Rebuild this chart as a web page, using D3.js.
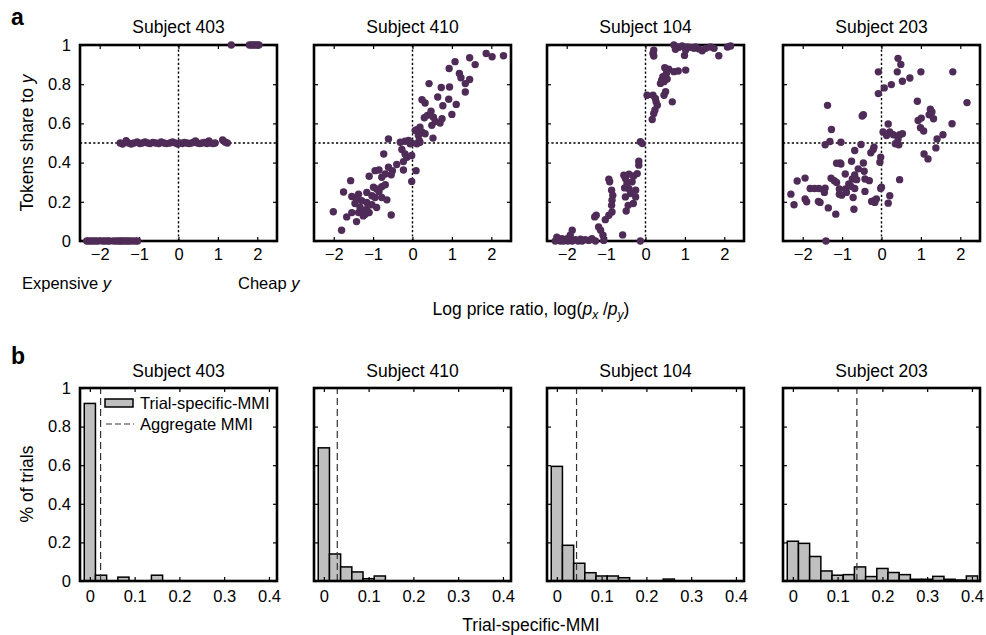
<!DOCTYPE html>
<html><head><meta charset="utf-8">
<script src="https://cdn.jsdelivr.net/npm/d3@7"></script>
<style>
body{margin:0;background:#fff;}
svg text{font-family:"Liberation Sans",Arial,Helvetica,sans-serif;fill:#000;}
</style></head><body>
<svg id="fig" width="986" height="635"></svg>
<script>
// ---- data ----
const subjects = ["Subject 403", "Subject 410", "Subject 104", "Subject 203"];
const logTicks = [-2, -1, 0, 1, 2];
const shareTicks = [0, 0.2, 0.4, 0.6, 0.8, 1];
const mmiTicks = [0, 0.1, 0.2, 0.3, 0.4];

// [log price ratio, token share to y] per trial
const share403 = [
  [-2.33,0],[-2.28,0],[-2.22,0],[-2.16,0],[-2.1,0],[-2.04,0],[-1.93,0],[-1.87,0],[-1.8,0],[-1.75,0],
  [-1.65,0],[-1.58,0],[-1.52,0],[-1.47,0],[-1.42,0],[-1.36,0],[-1.3,0],[-1.25,0],[-1.18,0],[-1.1,0],[-1.04,0],
  [-1.48,0.5],[-1.42,0.495],[-1.33,0.512],[-1.27,0.5],[-1.2,0.495],[-1.13,0.5],[-1.05,0.505],[-0.98,0.497],
  [-0.92,0.5],[-0.85,0.505],[-0.78,0.5],[-0.72,0.497],[-0.65,0.503],[-0.58,0.5],[-0.5,0.497],[-0.44,0.505],
  [-0.37,0.5],[-0.3,0.497],[-0.22,0.5],[-0.15,0.505],[-0.08,0.5],[-0.02,0.495],[0.04,0.5],[0.1,0.497],
  [0.15,0.503],[0.21,0.5],[0.27,0.497],[0.33,0.5],[0.38,0.503],[0.43,0.51],[0.48,0.5],[0.54,0.497],
  [0.6,0.5],[0.66,0.503],[0.72,0.497],[0.77,0.51],[0.82,0.5],[0.88,0.497],[0.93,0.5],[1.12,0.515],
  [1.18,0.505],[1.24,0.5],
  [1.34,1],[1.8,1],[1.85,1],[1.9,1],[1.95,1],[2.0,1],[2.04,1]
];
const share410 = [
  [1.87,0.957],[2.02,0.94],[2.31,0.945],[1.45,0.935],[1.59,0.90],[1.08,0.915],[0.93,0.88],[1.19,0.855],
  [1.23,0.833],[1.45,0.824],[1.34,0.803],[1.34,0.76],[0.42,0.803],[0.73,0.783],[0.94,0.786],[0.64,0.735],
  [0.92,0.723],[0.24,0.721],[0.32,0.704],[1.11,0.697],[0.47,0.662],[0.77,0.69],[0.30,0.629],[0.38,0.641],
  [0.53,0.632],[0.75,0.624],[0.70,0.602],[1.0,0.646],[0.49,0.59],[0.58,0.61],[0.19,0.581],[0.11,0.568],
  [0.24,0.556],[0.15,0.538],[0.32,0.547],[0.52,0.525],[0.11,0.496],[0.17,0.513],[0.07,0.564],[-0.61,0.521],
  [-0.31,0.504],[-0.19,0.509],[-0.06,0.496],[-0.10,0.513],[-0.27,0.467],[-0.19,0.444],[-0.02,0.436],
  [-0.73,0.444],[-0.40,0.39],[-0.23,0.405],[-0.14,0.427],[-0.61,0.376],[-0.51,0.359],[-0.23,0.362],
  [0.09,0.359],[-0.02,0.304],[-0.85,0.362],[-0.95,0.359],[-1.10,0.33],[-0.69,0.342],[-0.78,0.325],
  [-0.54,0.338],[-1.57,0.308],[-1.75,0.25],[-1.54,0.227],[-1.37,0.239],[-1.16,0.248],[-0.99,0.274],
  [-0.91,0.265],[-0.78,0.277],[-0.69,0.287],[-1.03,0.231],[-0.95,0.222],[-0.85,0.253],[-0.65,0.21],
  [-0.91,0.171],[-1.29,0.205],[-1.16,0.197],[-1.42,0.214],[-1.46,0.191],[-1.33,0.171],[-1.25,0.154],
  [-1.20,0.137],[-1.37,0.145],[-1.16,0.162],[-1.54,0.145],[-1.67,0.123],[-1.42,0.099],[-0.54,0.133],
  [-2.01,0.149],[-1.80,0.055],[-1.25,0.128],[-1.10,0.145],[-1.03,0.185],[-0.78,0.222],[-0.02,0.50],[0.19,0.504]
];
const share104 = [
  [0.72,1.0],[0.81,0.99],[0.93,0.995],[1.06,0.99],[1.14,0.988],[1.23,0.983],[1.36,0.98],[1.44,0.971],
  [1.53,0.983],[1.65,0.99],[1.74,0.983],[1.86,0.945],[2.08,0.99],[2.16,0.995],[0.76,0.978],[0.85,0.988],
  [0.99,0.947],[1.02,0.974],[1.27,0.99],[0.21,0.974],[0.19,0.957],[0.21,0.944],[0.49,0.884],[0.59,0.876],
  [0.53,0.855],[0.72,0.864],[0.83,0.867],[1.02,0.872],[0.44,0.838],[0.41,0.821],[0.38,0.804],[0.47,0.813],
  [0.55,0.826],[0.51,0.762],[0.68,0.71],[0.47,0.744],[0.04,0.744],[0.19,0.744],[0.25,0.727],[0.27,0.71],
  [0.30,0.693],[0.24,0.668],[0.21,0.651],[0.17,0.62],[-0.13,0.506],[-0.08,0.497],[-0.17,0.407],[-0.21,0.344],
  [-0.30,0.332],[-0.42,0.341],[-0.55,0.336],[-0.51,0.319],[-0.47,0.293],[-0.25,0.259],[-0.42,0.267],
  [-0.53,0.271],[-0.38,0.242],[-0.51,0.225],[-0.31,0.191],[-0.44,0.182],[-0.49,0.153],[-0.93,0.315],
  [-0.91,0.302],[-0.86,0.259],[-0.83,0.233],[-0.85,0.208],[-0.86,0.182],[-0.85,0.148],[-0.93,0.131],
  [-1.02,0.109],[-1.25,0.131],[-1.29,0.123],[-1.19,0.072],[-1.14,0.055],[-1.08,0.029],[-1.36,0.012],
  [-1.44,0.003],[-1.53,0.007],[-1.65,0.009],[-1.78,0.007],[-1.86,0.055],[-1.91,0.029],[-1.99,0.012],
  [-2.12,0.012],[-2.25,0.02],[-2.29,0],[-2.16,0],[-2.08,0],[-1.97,0],[-1.86,0],[-1.71,0],[-1.61,0],
  [-1.27,0],[-1.06,0.003],[-0.58,0.031],[-0.13,0],[-0.34,0.302],[-0.25,0.225],[-0.17,0.387]
];
const share203 = [
  [0.42,0.932],[0.49,0.901],[0.40,0.863],[0.53,0.815],[-0.08,0.863],[1.0,0.863],[1.81,0.863],[0.72,0.832],
  [0.25,0.798],[0.07,0.781],[-0.08,0.752],[0.91,0.713],[2.17,0.706],[-1.37,0.692],[-0.49,0.638],[-0.46,0.644],
  [1.24,0.672],[1.28,0.658],[1.21,0.644],[1.32,0.624],[0.93,0.615],[1.01,0.627],[0.99,0.578],[1.07,0.561],
  [1.79,0.598],[0.17,0.597],[-1.27,0.569],[0.04,0.556],[0.21,0.556],[0.30,0.542],[0.13,0.538],[0.46,0.542],
  [0.53,0.547],[0.42,0.521],[0.35,0.496],[0.44,0.491],[-1.43,0.491],[-1.31,0.508],[-1.03,0.504],[-0.52,0.492],
  [-0.19,0.479],[1.56,0.542],[1.41,0.521],[1.38,0.475],[1.08,0.444],[1.18,0.419],[-0.68,0.462],[-0.27,0.45],
  [-0.21,0.467],[-0.02,0.427],[-0.04,0.402],[-1.14,0.397],[-1.05,0.398],[-1.03,0.393],[-0.76,0.407],
  [-0.46,0.398],[-0.59,0.368],[-0.44,0.356],[-0.68,0.337],[-0.74,0.316],[-0.92,0.342],[-0.63,0.313],
  [-0.42,0.316],[-0.31,0.308],[-1.28,0.32],[-1.20,0.308],[-1.14,0.299],[0.46,0.313],[0.0,0.274],[-1.94,0.321],
  [-2.14,0.306],[-1.81,0.268],[-1.70,0.268],[-1.59,0.268],[-1.43,0.27],[-1.45,0.248],[-1.07,0.265],
  [-0.91,0.265],[-1.01,0.234],[-0.89,0.248],[-0.83,0.291],[-0.78,0.279],[-0.68,0.268],[-0.42,0.253],
  [-2.30,0.239],[-2.22,0.185],[-1.94,0.214],[-1.90,0.2],[-1.60,0.202],[-1.56,0.197],[-1.35,0.169],
  [-1.16,0.137],[-1.07,0.239],[-0.70,0.162],[-0.72,0.222],[-0.25,0.202],[-0.19,0.205],[-0.13,0.214],
  [-0.02,0.268],[0.21,0.231],[0.17,0.193],[-1.41,0.0],[-0.17,0.197]
];

// histogram of trial-specific MMI, bins centred at 0, 0.025, 0.05, ...
const binWidth = 0.025;
const hist403 = [0.92, 0.03, 0, 0.02, 0, 0, 0.03];
const hist410 = [0.69, 0.14, 0.073, 0.047, 0.012, 0.026];
const hist104 = [0.594, 0.185, 0.092, 0.043, 0.026, 0.026, 0.017, 0, 0, 0, 0.01];
const hist203 = [0.206, 0.195, 0.127, 0.052, 0.03, 0.033, 0.073, 0.023, 0.065, 0.044, 0.033,
                 0.009, 0.009, 0.024, 0.009, 0.005, 0.026];
const aggregateMMI = [0.024, 0.03, 0.044, 0.143];

// ---- layout ----
const svg = d3.select("#fig");
const colLeft = [80, 314, 547, 783];
const panelW = 197;
const rowA = {top: 45, bottom: 241};
const rowB = {top: 388, bottom: 581};
const dotColor = "#4f2c57";
const fmt = d3.format("");
const tickFont = 16.5;
const labelFont = 17.5;

function styleAxis(g, labelled) {
  g.select(".domain").remove();
  g.selectAll(".tick line").attr("stroke", "#000").attr("stroke-width", 1.2);
  g.selectAll(".tick text").attr("font-size", tickFont).attr("fill", "#000")
    .attr("font-family", '"Liberation Sans", Arial, sans-serif');
  if (!labelled) g.selectAll(".tick text").remove();
}

function frameAxes(g, x, y, xTicks, yTicks, showY, xPad) {
  const [x0, x1] = x.range();
  const [y0, y1] = y.range();
  g.append("g").attr("transform", `translate(0,${y0})`)
    .call(d3.axisBottom(x).tickValues(xTicks).tickFormat(fmt).tickSizeInner(-4).tickSizeOuter(0).tickPadding(xPad))
    .call(s => styleAxis(s, true));
  g.append("g").attr("transform", `translate(0,${y1})`)
    .call(d3.axisTop(x).tickValues(xTicks).tickSizeInner(-4).tickSizeOuter(0))
    .call(s => styleAxis(s, false));
  g.append("g").attr("transform", `translate(${x0},0)`)
    .call(d3.axisLeft(y).tickValues(yTicks).tickFormat(fmt).tickSizeInner(-4).tickSizeOuter(0).tickPadding(9))
    .call(s => styleAxis(s, showY));
  g.append("g").attr("transform", `translate(${x1},0)`)
    .call(d3.axisRight(y).tickValues(yTicks).tickSizeInner(-4).tickSizeOuter(0))
    .call(s => styleAxis(s, false));
}

function frameBox(g, x, y) {
  const [x0, x1] = x.range();
  const [y0, y1] = y.range();
  g.append("rect").attr("x", x0).attr("y", y1).attr("width", x1 - x0).attr("height", y0 - y1)
    .attr("fill", "none").attr("stroke", "#000").attr("stroke-width", 2.6);
}

// ---- row a: token share vs log price ratio ----
[share403, share410, share104, share203].forEach((pts, i) => {
  const x = d3.scaleLinear().domain([-2.5, 2.5]).range([colLeft[i], colLeft[i] + panelW]);
  const y = d3.scaleLinear().domain([0, 1]).range([rowA.bottom, rowA.top]);
  const g = svg.append("g");
  g.append("text").attr("x", colLeft[i] + panelW / 2).attr("y", 33)
    .attr("text-anchor", "middle").attr("font-size", labelFont).text(subjects[i]);
  frameAxes(g, x, y, logTicks, shareTicks, i === 0, 7);
  frameBox(g, x, y);
  g.append("line").attr("x1", x(0)).attr("x2", x(0)).attr("y1", y(0)).attr("y2", y(1))
    .attr("stroke", "#000").attr("stroke-width", 1.4).attr("stroke-dasharray", "2.2,2.2");
  g.append("line").attr("x1", x(-2.5)).attr("x2", x(2.5)).attr("y1", y(0.5)).attr("y2", y(0.5))
    .attr("stroke", "#000").attr("stroke-width", 1.4).attr("stroke-dasharray", "2.2,2.2");
  g.selectAll("circle.pt").data(pts).join("circle").attr("class", "pt")
    .attr("cx", d => x(d[0])).attr("cy", d => y(d[1])).attr("r", 3.7)
    .attr("fill", dotColor);
});

// ---- row b: trial-specific MMI histograms ----
[hist403, hist410, hist104, hist203].forEach((vals, i) => {
  const x = d3.scaleLinear().domain([-0.022, 0.418]).range([colLeft[i], colLeft[i] + panelW]);
  const y = d3.scaleLinear().domain([0, 1]).range([rowB.bottom, rowB.top]);
  const g = svg.append("g");
  g.append("text").attr("x", colLeft[i] + panelW / 2).attr("y", 377)
    .attr("text-anchor", "middle").attr("font-size", labelFont).text(subjects[i]);
  const bins = vals.map((v, k) => ({c: k * binWidth, v})).filter(d => d.v > 0);
  g.selectAll("rect.bar").data(bins).join("rect").attr("class", "bar")
    .attr("x", d => x(d.c - binWidth / 2)).attr("width", d => x(d.c + binWidth / 2) - x(d.c - binWidth / 2))
    .attr("y", d => y(d.v)).attr("height", d => y(0) - y(d.v))
    .attr("fill", "#bfbfbf").attr("stroke", "#000").attr("stroke-width", 1.5);
  g.append("line").attr("x1", x(aggregateMMI[i])).attr("x2", x(aggregateMMI[i]))
    .attr("y1", y(0)).attr("y2", y(1))
    .attr("stroke", "#333").attr("stroke-width", 1.2).attr("stroke-dasharray", "7,4");
  frameAxes(g, x, y, mmiTicks, shareTicks, i === 0, 9);
  frameBox(g, x, y);
});

// ---- legend (first histogram) ----
const lg = svg.append("g");
lg.append("rect").attr("x", 105).attr("y", 399).attr("width", 28).attr("height", 8)
  .attr("fill", "#bfbfbf").attr("stroke", "#000").attr("stroke-width", 1.5);
lg.append("text").attr("x", 140).attr("y", 409).attr("font-size", 16.5).text("Trial-specific-MMI");
lg.append("line").attr("x1", 106).attr("x2", 134).attr("y1", 424).attr("y2", 424)
  .attr("stroke", "#333").attr("stroke-width", 1.2).attr("stroke-dasharray", "6,3");
lg.append("text").attr("x", 140).attr("y", 430).attr("font-size", 16.5).text("Aggregate MMI");

// ---- panel letters & axis titles ----
svg.append("text").attr("x", 11).attr("y", 25).attr("font-size", 23).attr("font-weight", "bold").text("a");
svg.append("text").attr("x", 11).attr("y", 364).attr("font-size", 23).attr("font-weight", "bold").text("b");

const yl1 = svg.append("text").attr("transform", "translate(33,143) rotate(-90)")
  .attr("text-anchor", "middle").attr("font-size", labelFont);
yl1.append("tspan").text("Tokens share to ");
yl1.append("tspan").attr("font-style", "italic").text("y");

svg.append("text").attr("transform", "translate(33,484) rotate(-90)")
  .attr("text-anchor", "middle").attr("font-size", labelFont).text("% of trials");

const ex = svg.append("text").attr("x", 22).attr("y", 289).attr("font-size", 16.5);
ex.append("tspan").text("Expensive ");
ex.append("tspan").attr("font-style", "italic").text("y");
const ch = svg.append("text").attr("x", 238).attr("y", 289).attr("font-size", 16.5);
ch.append("tspan").text("Cheap ");
ch.append("tspan").attr("font-style", "italic").text("y");

const xl = svg.append("text").attr("x", 531).attr("y", 315).attr("text-anchor", "middle").attr("font-size", labelFont);
xl.append("tspan").text("Log price ratio, log(");
xl.append("tspan").attr("font-style", "italic").text("p");
xl.append("tspan").attr("font-style", "italic").attr("font-size", 12).attr("dy", 4).text("x");
xl.append("tspan").attr("dy", -4).text(" /");
xl.append("tspan").attr("font-style", "italic").text("p");
xl.append("tspan").attr("font-style", "italic").attr("font-size", 12).attr("dy", 4).text("y");
xl.append("tspan").attr("dy", -4).text(")");

svg.append("text").attr("x", 531).attr("y", 631).attr("text-anchor", "middle").attr("font-size", labelFont)
  .text("Trial-specific-MMI");
</script>
</body></html>
